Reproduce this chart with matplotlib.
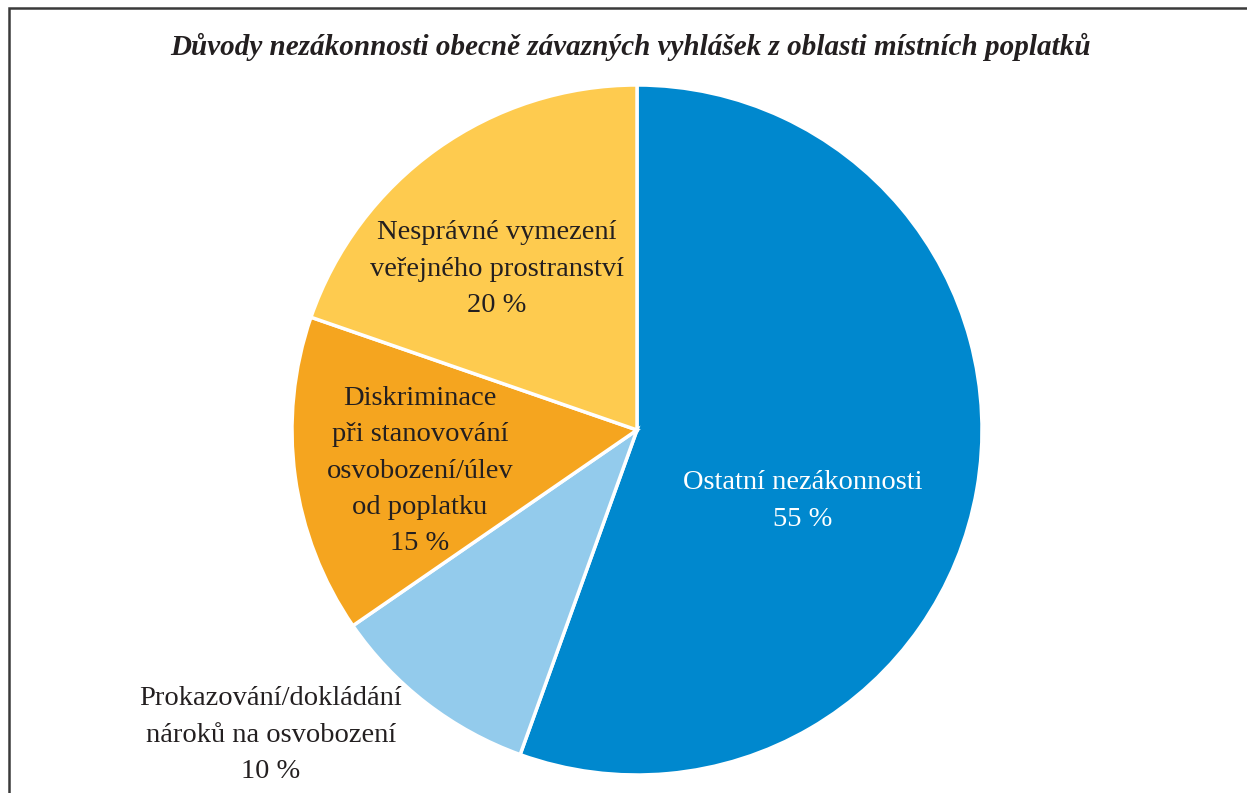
import matplotlib.pyplot as plt
from matplotlib.patches import Rectangle

labels = ['Ostatní nezákonnosti\n55 %',
          'Prokazování/dokládání\nnároků na osvobození\n10 %',
          'Diskriminace\npři stanovování\nosvobození/úlev\nod poplatku\n15 %',
          'Nesprávné vymezení\nveřejného prostranství\n20 %']
# shares as measured from the slice angles (labels show rounded values)
values = [55.5, 9.9, 14.9, 19.7]
colors = ['#0088ce', '#93cbec', '#f5a51f', '#fecb4f']
# label positions in pixels (x, y from top)
label_pos = [(803, 501), (271, 735), (420, 471), (497, 269)]
label_col = ['white', '#231f20', '#231f20', '#231f20']

W, H = 1247, 793
fig = plt.figure(figsize=(W / 100, H / 100), dpi=100)
ax = fig.add_axes([0, 0, 1, 1])

ax.pie(values, colors=colors, startangle=90, counterclock=False,
       center=(637, H - 430), radius=345,
       wedgeprops=dict(edgecolor='white', linewidth=2.5))
ax.set_xlim(0, W)
ax.set_ylim(0, H)
ax.set_aspect('equal')
ax.axis('off')

# frame (only top and left edges visible)
ax.add_patch(Rectangle((9, -20), W + 20, H - 8 + 20, fill=False,
                       edgecolor='#3a3a3a', linewidth=1.8, clip_on=False))

ax.text(631, H - 47, 'Důvody nezákonnosti obecně závazných vyhlášek z oblasti místních poplatků',
        ha='center', va='center', fontsize=21, fontweight='bold', style='italic',
        family='Liberation Serif', color='#231f20')

for txt, (x, y), c in zip(labels, label_pos, label_col):
    ax.text(x, H - y, txt, ha='center', va='center', fontsize=20.5,
            family='Liberation Serif', color=c, linespacing=1.6)

fig.savefig('out.png', dpi=100)
